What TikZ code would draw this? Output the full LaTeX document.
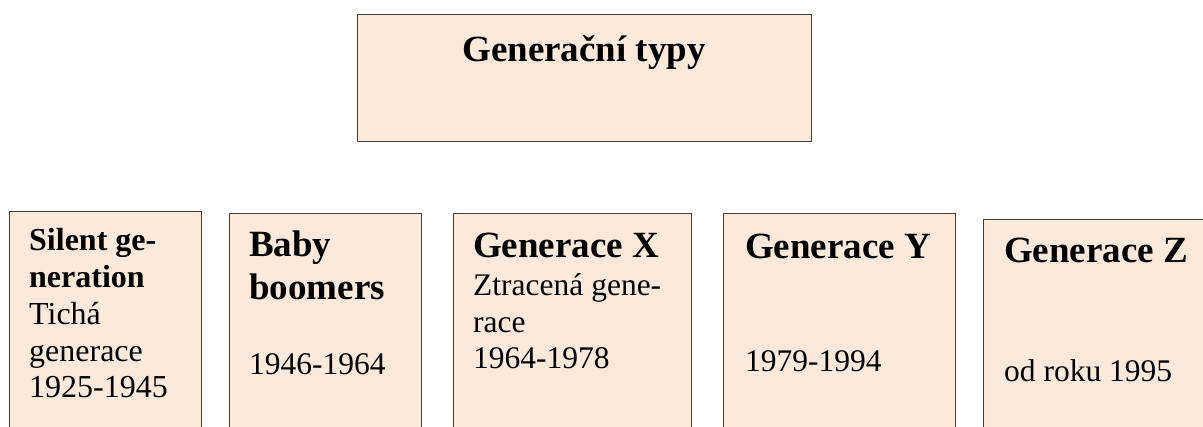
\documentclass[tikz,border=0pt]{standalone}
\usepackage{fontspec}
\setmainfont{Liberation Serif}
\usepackage{tikz}
\usetikzlibrary{positioning}
\usepackage{xcolor}
\definecolor{peach}{HTML}{FDE9D9}
\definecolor{frame}{HTML}{404040}
\newcommand{\headfont}{\bfseries\fontsize{37}{43}\selectfont}
\newcommand{\bodyfont}{\fontsize{31.5}{36.5}\selectfont}
\tikzset{%
	gen box/.style={
		rectangle,
		draw=frame,
		fill=peach,
		line width=1.3pt,
		inner sep=0pt,
		anchor=north west
	},
	gen text/.style={
		inner sep=0pt,
		text width=220pt,
		align=flush left,
		anchor=base west,
		font=\bodyfont
	},
}

\begin{document}
\begin{tikzpicture}[x=1pt, y=-1pt]
	\useasboundingbox (0,0) rectangle (1203,427);
	\clip (0,0) rectangle (1203,427);
	
	% title box
	\node[gen box, minimum width=454pt, minimum height=127pt] (types) at (357,14) {};
	\node[anchor=base, inner sep=0pt, font=\headfont] (types text) at (584,62) {Generační typy};
	
	% generation boxes
	\node[gen box, minimum width=192pt, minimum height=240pt] (silent) at (9,211) {};
	\node[gen box, minimum width=192pt, minimum height=240pt] (boomers) at (229,213) {};
	\node[gen box, minimum width=238pt, minimum height=240pt] (genx) at (453,213) {};
	\node[gen box, minimum width=232pt, minimum height=240pt] (geny) at (723,213) {};
	\node[gen box, minimum width=240pt, minimum height=240pt] (genz) at (983,219) {};
	
	\node[gen text, font=\fontsize{32}{36.7}\selectfont] (silent text) at (29,251)
		{\textbf{Silent ge-}\\\textbf{neration}\\Tichá\\generace\\1925-1945};
	\node[gen text] (boomers text) at (249,257)
		{{\headfont Baby\\boomers\par}\vspace{38.5pt}1946-1964};
	\node[gen text] (genx text) at (473,258)
		{{\headfont Generace X\par}\vspace{1.5pt}Ztracená gene-\\race\\1964-1978};
	\node[gen text] (geny text) at (745,259)
		{{\headfont Generace Y\par}\vspace{76.5pt}1979-1994};
	\node[gen text] (genz text) at (1004,263)
		{{\headfont Generace Z\par}\vspace{82.5pt}od roku 1995};
	
\end{tikzpicture}
\end{document}
